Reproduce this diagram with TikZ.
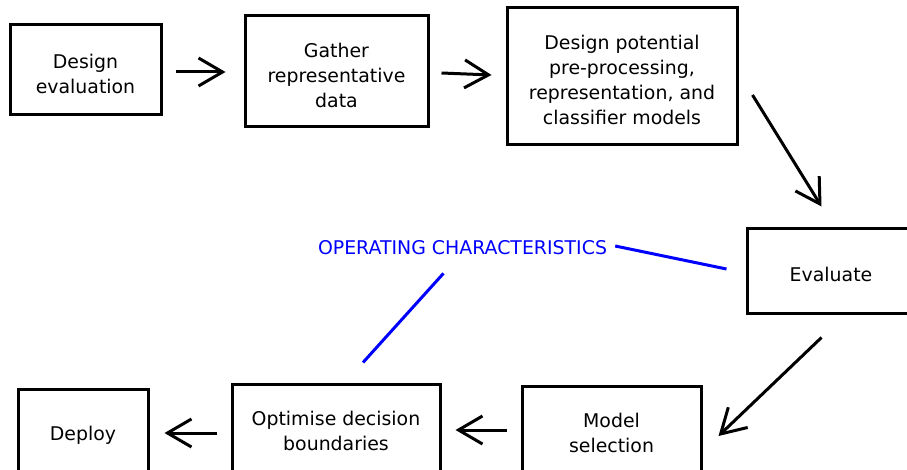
\documentclass[tikz,border=0pt]{standalone}
\usepackage{fontspec}
\setmainfont{DejaVu Sans}
\usetikzlibrary{arrows.meta}
\newcommand\lowtext[2][6pt]{\raisebox{-#1}[\height][\depth]{\begin{tabular}{@{}c@{}}#2\end{tabular}}}
\begin{document}
\begin{tikzpicture}[x=1pt,y=-1pt,
  box/.style={draw=black,line width=3pt,inner sep=0pt,align=center,font=\fontsize{18.9}{25}\selectfont},
  arr/.style={line width=3pt,-{Straight Barb[length=24pt,width=28pt,line width=3pt]}},
  oc/.style={blue,line width=3pt}]
\useasboundingbox (0,0) rectangle (907,470);
\clip (0,0) rectangle (907,470);
\node[box,minimum width=151pt,minimum height=90pt] (b1) at (85.5,70) {\lowtext{Design\\evaluation}};
\node[box,minimum width=183pt,minimum height=111pt] (b2) at (336.5,71.5) {\lowtext{Gather\\representative\\data}};
\node[box,minimum width=230pt,minimum height=137pt] (b3) at (622,76.5) {\lowtext{Design potential\\pre-processing,\\representation, and\\classifier models}};
\node[box,minimum width=168pt,minimum height=84pt] (b4) at (831,271) {\lowtext[5pt]{Evaluate}};
\node[box,minimum width=179pt,minimum height=92pt] (b5) at (611.5,432) {\lowtext[3pt]{Model\\selection}};
\node[box,minimum width=208pt,minimum height=92pt] (b6) at (336,430) {\lowtext[2.5pt]{Optimise decision\\boundaries}};
\node[box,minimum width=130pt,minimum height=88pt] (b7) at (83,433) {\lowtext[2pt]{Deploy}};
\node[inner sep=0pt,text=blue,font=\fontsize{18.9}{25}\selectfont] (oc) at (462.5,248) {OPERATING CHARACTERISTICS};
\draw[arr] ([shift={(13,2)}]b1.east) -- ([shift={(-18,0.5)}]b2.west);
\draw[arr] ([shift={(12,1.5)}]b2.east) -- ([shift={(-14,-1.5)}]b3.west);
\draw[arr] ([shift={(14,18.5)}]b3.east) -- ([shift={(76,-21)}]b4.north west);
\draw[arr] ([shift={(76,23)}]b4.south west) -- ([shift={(16,4)}]b5.east);
\draw[arr] ([shift={(-14,-2)}]b5.west) -- ([shift={(14,0)}]b6.east);
\draw[arr] ([shift={(-14,3)}]b6.west) -- ([shift={(15,0)}]b7.east);
\draw[oc] ([shift={(8,-2)}]oc.east) -- ([shift={(-19,-2)}]b4.west);
\draw[oc] ([shift={(-19,18)}]oc.south) -- ([shift={(27,-20)}]b6.north);
\end{tikzpicture}
\end{document}
